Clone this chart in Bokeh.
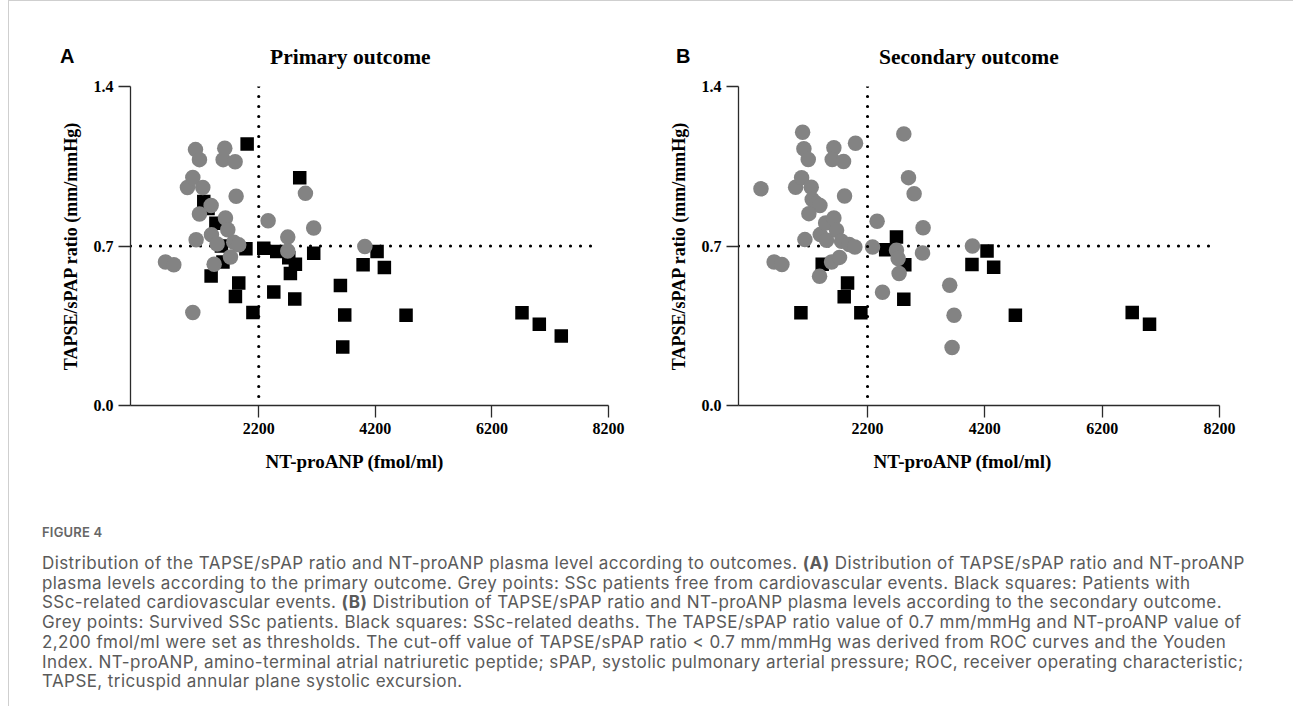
from bokeh.plotting import figure
from bokeh.models import Range1d, Span, Div, FixedTicker, NumeralTickFormatter, Spacer, Title
from bokeh.layouts import row, column
from bokeh.embed import file_html
from bokeh.resources import INLINE

# ---------------- data ----------------
x_ticks = [2200, 4200, 6200, 8200]
y_ticks = [0.0, 0.7, 1.4]
x_threshold = 2200
y_threshold = 0.7
h_line_span = [0, 8050]   # extent of the dotted 0.7 threshold line

# Panel A: primary outcome
a_free_x = [600, 743, 977, 1069, 1115, 1183, 1240, 1383, 1183, 1126, 1389, 1486, 1435, 1069, 1629,
            1669, 1617, 1589, 1795, 1812, 1772, 1857, 1715, 2361, 2698, 2698, 3001, 3143, 4020]
a_free_y = [0.630, 0.618, 0.957, 1.001, 1.123, 1.079, 0.957, 0.878, 0.840, 0.727, 0.749, 0.709, 0.620, 0.408, 0.823,
            0.771, 1.129, 1.079, 1.070, 0.918, 0.716, 0.705, 0.652, 0.811, 0.739, 0.678, 0.931, 0.779, 0.698]
a_event_x = [1257, 1330, 1465, 1560, 1586, 1383, 1857, 1800, 2100, 1980, 2001, 2286, 2509, 2715, 2829,
             2743, 2458, 2818, 2903, 3143, 3601, 3675, 3641, 3990, 4230, 4355, 4727, 6716, 7013, 7390]
a_event_y = [0.895, 0.865, 0.800, 0.700, 0.630, 0.568, 0.538, 0.478, 0.408, 0.688, 1.148, 0.690, 0.676, 0.648, 0.620,
             0.579, 0.498, 0.467, 1.000, 0.668, 0.527, 0.397, 0.257, 0.618, 0.676, 0.606, 0.396, 0.407, 0.357, 0.305]

# Panel B: secondary outcome
b_surv_x = [383, 607, 740, 974, 1076, 1093, 1115, 1189, 1240, 1257, 1331, 1388, 1200, 1132, 1393,
            1485, 1502, 1382, 1587, 1722, 1626, 1672, 1626, 1598, 1791, 1808, 1757, 1887, 1984, 1995,
            2285, 2363, 2455, 2693, 2721, 2738, 2818, 2898, 2994, 3137, 3147, 3601, 3641, 3675, 3988]
b_surv_y = [0.951, 0.630, 0.619, 0.958, 1.000, 1.199, 1.127, 1.080, 0.958, 0.904, 0.886, 0.878, 0.842, 0.728, 0.750,
            0.801, 0.725, 0.567, 0.630, 0.650, 0.823, 0.769, 1.131, 1.080, 1.071, 0.919, 0.721, 0.707, 0.696, 1.151,
            0.696, 0.809, 0.497, 0.681, 0.645, 0.579, 1.192, 1.000, 0.929, 0.669, 0.780, 0.528, 0.255, 0.396, 0.700]
b_death_x = [1064, 1427, 1802, 1859, 2086, 2509, 2693, 2818, 2835, 3980, 4237, 4350, 4720, 6712, 7007]
b_death_y = [0.407, 0.620, 0.477, 0.538, 0.407, 0.684, 0.739, 0.466, 0.618, 0.619, 0.678, 0.607, 0.396, 0.408, 0.357]

panel_letters = ["A", "B"]
panel_titles = ["Primary outcome", "Secondary outcome"]
x_title = "NT-proANP (fmol/ml)"
y_title = "TAPSE/sPAP ratio (mm/mmHg)"

caption_head = "FIGURE 4"
caption_lines = [
    "Distribution of the TAPSE/sPAP ratio and NT-proANP plasma level according to outcomes. <b>(A)</b> Distribution of TAPSE/sPAP ratio and NT-proANP",
    "plasma levels according to the primary outcome. Grey points: SSc patients free from cardiovascular events. Black squares: Patients with",
    "SSc-related cardiovascular events. <b>(B)</b> Distribution of TAPSE/sPAP ratio and NT-proANP plasma levels according to the secondary outcome.",
    "Grey points: Survived SSc patients. Black squares: SSc-related deaths. The TAPSE/sPAP ratio value of 0.7 mm/mmHg and NT-proANP value of",
    "2,200 fmol/ml were set as thresholds. The cut-off value of TAPSE/sPAP ratio &lt; 0.7 mm/mmHg was derived from ROC curves and the Youden",
    "Index. NT-proANP, amino-terminal atrial natriuretic peptide; sPAP, systolic pulmonary arterial pressure; ROC, receiver operating characteristic;",
    "TAPSE, tricuspid annular plane systolic excursion.",
]

SERIF = "Liberation Serif"
X_MAX = 8200
Y_MAX = 1.4
HEADER_H = 75
FIG_H = 418
TOP = 10
BOTTOM = 89


def panel(grey_x, grey_y, black_x, black_y, width, ml, mr):
    p = figure(width=width, height=FIG_H, x_range=Range1d(0, X_MAX), y_range=Range1d(0, Y_MAX),
               output_backend="svg", toolbar_location=None,
               min_border_left=ml, min_border_right=mr, min_border_top=TOP, min_border_bottom=BOTTOM)
    p.xgrid.visible = False
    p.ygrid.visible = False
    p.outline_line_color = None
    p.background_fill_color = "white"
    p.border_fill_color = "white"

    for ax in (p.xaxis[0], p.yaxis[0]):
        ax.axis_line_color = "#2b2b2b"
        ax.axis_line_width = 1.3
        ax.major_tick_line_color = "#2b2b2b"
        ax.major_tick_line_width = 1.3
        ax.major_tick_out = 12
        ax.major_tick_in = 0
        ax.minor_tick_out = 0
        ax.minor_tick_in = 0
        ax.major_label_text_font = SERIF
        ax.major_label_text_font_style = "bold"
        ax.major_label_text_font_size = "16px"
        ax.major_label_text_color = "black"
        ax.axis_label_text_font = SERIF
        ax.axis_label_text_font_style = "bold"
        ax.axis_label_text_font_size = "18px"
        ax.axis_label_text_color = "black"

    p.xaxis.ticker = FixedTicker(ticks=x_ticks)
    p.yaxis.ticker = FixedTicker(ticks=y_ticks)
    p.yaxis.formatter = NumeralTickFormatter(format="0.0")
    p.yaxis.axis_label = y_title
    p.xaxis.major_label_standoff = 5
    p.yaxis.major_label_standoff = 5
    p.yaxis.axis_label_standoff = 10

    p.add_layout(Title(text=x_title, align="left", offset=135, standoff=24,
                       text_font=SERIF, text_font_style="bold", text_font_size="19px",
                       text_color="black"), "below")

    dots = dict(line_color="black", line_width=3.2, line_dash="0 10", line_cap="round")
    p.line(h_line_span, [y_threshold, y_threshold], **dots)
    p.add_layout(Span(location=x_threshold, dimension="height", **dots))

    p.scatter(black_x, black_y, marker="square", size=13.5, fill_color="black", line_color=None)
    p.scatter(grey_x, grey_y, marker="circle", size=15.5, fill_color="#838383", line_color=None)
    return p


pA = panel(a_free_x, a_free_y, a_event_x, a_event_y, width=629, ml=121, mr=30)
pB = panel(b_surv_x, b_surv_y, b_death_x, b_death_y, width=611, ml=100, mr=30)

# header with panel letters and titles (positions relative to header box)
letter_left = [51, 667]
title_left = [261, 870]
spans = []
for i in range(2):
    spans.append(
        f"<span style=\"position:absolute;left:{letter_left[i]}px;top:43px;line-height:24px;"
        f"font-family:'Liberation Sans';font-weight:bold;font-size:20px;color:#000;\">{panel_letters[i]}</span>")
    spans.append(
        f"<span style=\"position:absolute;left:{title_left[i]}px;top:44px;line-height:24px;white-space:nowrap;"
        f"font-family:'{SERIF}';font-weight:bold;font-size:21.5px;color:#000;\">{panel_titles[i]}</span>")
header = Div(text=f"<div style=\"position:relative;width:1284px;height:{HEADER_H}px;\">" + "".join(spans) + "</div>",
             width=1284, height=HEADER_H, margin=0)

caption_html = (
    "<div style=\"font-family:'Inter';color:#5a5a5a;padding-left:33px;\">"
    "<div style=\"font-size:13px;font-weight:600;color:#666666;letter-spacing:0.2px;"
    "margin-top:29px;line-height:18px;\">" + caption_head + "</div>"
    "<div style=\"font-size:17px;letter-spacing:0.42px;line-height:19.7px;margin-top:13px;white-space:nowrap;\">"
    + "<br>".join(caption_lines) + "</div></div>"
)
caption = Div(text=caption_html, width=1284, height=706 - 1 - HEADER_H - FIG_H, margin=0)

top_line = Div(text="", width=1284, height=1, margin=0, styles={"background-color": "#cfcfcf"})
left_line = Div(text="", width=1, height=706, margin=0, styles={"background-color": "#cfcfcf"})
left_pad = Spacer(width=8, height=706, margin=0)

root = row(left_pad, left_line, column(top_line, header, row(pA, pB), caption))

html = file_html(root, INLINE)
html = html.replace("<head>", "<head><style>html, body { margin: 0; padding: 0; }</style>", 1)
open("out.html", "w").write(html)
